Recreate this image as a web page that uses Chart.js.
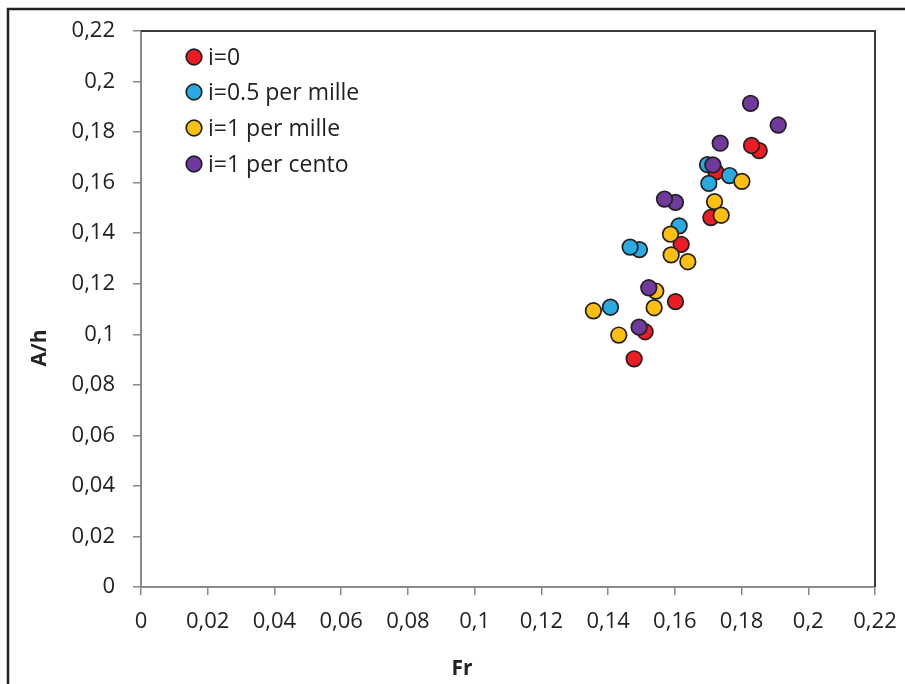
<!DOCTYPE html>
<html>
<head>
<meta charset="utf-8">
<script src="https://cdn.jsdelivr.net/npm/chart.js@4.4.1/dist/chart.umd.min.js"></script>
<style>
html,body{margin:0;padding:0;background:#fff;}
#wrap{width:905px;height:684px;position:relative;}
</style>
</head>
<body>
<div id="wrap"><canvas id="c" width="905" height="684"></canvas></div>
<script>
// ---- data ----
const seriesNames = ["i=0", "i=0.5 per mille", "i=1 per mille", "i=1 per cento"];
const redX = [0.1478, 0.1511, 0.1602, 0.1619, 0.1708, 0.1723, 0.1853, 0.1830];
const redY = [0.0903, 0.1010, 0.1129, 0.1356, 0.1462, 0.1643, 0.1727, 0.1747];
const blueX = [0.1407, 0.1494, 0.1466, 0.1613, 0.1702, 0.1764, 0.1698];
const blueY = [0.1107, 0.1335, 0.1345, 0.1429, 0.1597, 0.1628, 0.1671];
const yellowX = [0.1356, 0.1432, 0.1538, 0.1543, 0.1589, 0.1587, 0.1639, 0.1719, 0.1739, 0.1801];
const yellowY = [0.1093, 0.0997, 0.1105, 0.1171, 0.1314, 0.1396, 0.1287, 0.1525, 0.1471, 0.1605];
const purpleX = [0.1493, 0.1522, 0.1602, 0.1569, 0.1714, 0.1736, 0.1827, 0.1910];
const purpleY = [0.1028, 0.1184, 0.1522, 0.1535, 0.1670, 0.1756, 0.1914, 0.1828];
const xTickLabels = ["0","0,02","0,04","0,06","0,08","0,1","0,12","0,14","0,16","0,18","0,2","0,22"];
const yTickLabels = ["0","0,02","0,04","0,06","0,08","0,1","0,12","0,14","0,16","0,18","0,2","0,22"];
const xTitle = "Fr";
const yTitle = "A/h";

const colors = ["#ED1C24", "#29ABE2", "#FDC010", "#6F3A9B"];
const FONT = "'Open Sans', 'Liberation Sans', sans-serif";

function pts(xs, ys){ return xs.map((x,i)=>({x:x, y:ys[i]})); }
const allSeries = [[redX,redY],[blueX,blueY],[yellowX,yellowY],[purpleX,purpleY]];

const datasets = allSeries.map((s,i)=>({
  label: seriesNames[i],
  data: pts(s[0], s[1]),
  backgroundColor: colors[i],
  borderColor: "#231F20",
  borderWidth: 1.7,
  pointRadius: 7.8,
  pointHoverRadius: 7.8,
  order: 3 - i
}));

const deco = {
  id: "deco",
  afterDraw(chart){
    const ctx = chart.ctx, a = chart.chartArea;
    ctx.save();
    // plot area top/right border
    ctx.strokeStyle = "#3a3a3a";
    ctx.lineWidth = 2;
    ctx.beginPath();
    ctx.moveTo(a.left, a.top);
    ctx.lineTo(a.right, a.top);
    ctx.lineTo(a.right, a.bottom);
    ctx.stroke();
    // outer border
    ctx.strokeStyle = "#222";
    ctx.lineWidth = 2.5;
    ctx.beginPath();
    ctx.moveTo(8, 690);
    ctx.lineTo(8, 9);
    ctx.lineTo(910, 9);
    ctx.stroke();
    // axis titles
    ctx.fillStyle = "#222";
    ctx.font = "bold 21px " + FONT;
    ctx.textAlign = "center";
    ctx.textBaseline = "middle";
    ctx.fillText(xTitle, 462, 669);
    ctx.translate(40, 348);
    ctx.rotate(-Math.PI/2);
    ctx.fillText(yTitle, 0, 0);
    ctx.restore();
    // legend
    ctx.save();
    ctx.font = "23px " + FONT;
    ctx.textAlign = "left";
    ctx.textBaseline = "middle";
    const ys = [57, 92, 128, 164];
    seriesNames.forEach((n,i)=>{
      ctx.beginPath();
      ctx.arc(194, ys[i], 7.8, 0, Math.PI*2);
      ctx.fillStyle = colors[i];
      ctx.fill();
      ctx.lineWidth = 1.7;
      ctx.strokeStyle = "#231F20";
      ctx.stroke();
      ctx.fillStyle = "#222";
      ctx.fillText(n, 208, ys[i] + 1);
    });
    ctx.restore();
  }
};

new Chart(document.getElementById("c"), {
  type: "scatter",
  data: { datasets },
  options: {
    responsive: false,
    devicePixelRatio: 1,
    animation: false,
    events: [],
    layout: { padding: { left: 0, top: 31, right: 30, bottom: 0 } },
    plugins: { legend: { display: false }, tooltip: { enabled: false } },
    scales: {
      x: {
        type: "linear", min: 0, max: 0.22,
        afterFit(s){ s.height = 97; s.paddingLeft = 0; s.paddingRight = 0; },
        ticks: { stepSize: 0.02, padding: 14, color: "#222", font: { family: FONT, size: 22 },
          callback: (v, i) => xTickLabels[i] },
        grid: { drawOnChartArea: false, tickLength: 8, color: "#8a8a8a", lineWidth: 1.5 },
        border: { display: true, color: "#8a8a8a", width: 2 }
      },
      y: {
        type: "linear", min: 0, max: 0.22,
        afterFit(s){ s.width = 141; s.paddingTop = 0; s.paddingBottom = 0; },
        ticks: { stepSize: 0.02, padding: 18, color: "#222", font: { family: FONT, size: 22 },
          callback: (v, i) => yTickLabels[i] },
        grid: { drawOnChartArea: false, tickLength: 8, color: "#8a8a8a", lineWidth: 1.5 },
        border: { display: true, color: "#8a8a8a", width: 2 }
      }
    }
  },
  plugins: [deco]
});
</script>
</body>
</html>
